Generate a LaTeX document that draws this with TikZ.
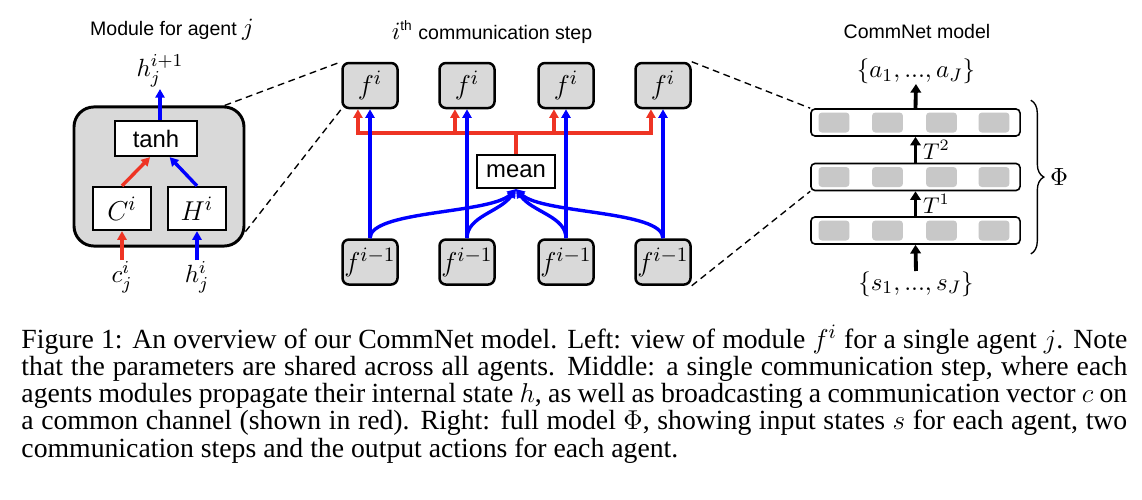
\documentclass[tikz,border=0pt]{standalone}
\usepackage{fontspec}
\setmainfont{Liberation Serif}
\newfontfamily\diagsans{Liberation Sans}
\usepackage{tikz}
\usetikzlibrary{arrows.meta,positioning,decorations.pathreplacing}

\definecolor{boxgray}{RGB}{217,217,217}
\definecolor{cellgray}{RGB}{200,200,200}
\definecolor{commred}{RGB}{238,52,36}
\definecolor{commblue}{RGB}{0,0,255}

\begin{document}
\begin{tikzpicture}[
    x=0.44pt, y=-0.44pt,
    % --- STYLES ---
    title/.style={font=\diagsans\fontsize{8.6}{10}\selectfont, inner sep=0pt},
    mathlabel/.style={font=\fontsize{11}{13}\selectfont, inner sep=0.5pt},
    outerbox/.style={
        rectangle, rounded corners=8.8pt,
        draw=black, fill=boxgray, line width=1.3pt,
        minimum width=74.8pt, minimum height=61.2pt
    },
    opbox/.style={
        rectangle, draw=black, fill=white,
        line width=1pt, inner sep=0pt,
        font=\diagsans\fontsize{10.5}{12}\selectfont
    },
    gatebox/.style={
        rectangle, draw=black, fill=white,
        line width=1pt, inner sep=0pt,
        minimum width=25.5pt, minimum height=18.9pt,
        font=\fontsize{12.5}{14}\selectfont
    },
    agentbox/.style={
        rectangle, rounded corners=2.8pt,
        draw=black, fill=boxgray, line width=1.1pt,
        minimum width=24.2pt, minimum height=19.8pt,
        inner sep=0pt, font=\fontsize{13}{15}\selectfont
    },
    layerbox/.style={
        rectangle, rounded corners=1.8pt,
        draw=black, fill=white, line width=0.7pt,
        minimum width=92pt, minimum height=11.9pt, inner sep=0pt
    },
    cellbox/.style={
        rectangle, rounded corners=1.5pt, fill=cellgray,
        minimum width=13.6pt, minimum height=8.8pt, inner sep=0pt
    },
    redwire/.style={draw=commred, line width=1.5pt},
    redarrow/.style={redwire, -{Triangle[length=3.8pt,width=4pt]}},
    bluearrow/.style={draw=commblue, line width=1.5pt, -{Triangle[length=3.8pt,width=4pt]}},
    netarrow/.style={draw=black, line width=1.7pt, -{Triangle[length=3.8pt,width=4.6pt]}},
    zoomline/.style={dashed, line width=0.6pt, dash pattern=on 3pt off 2pt},
    bracestyle/.style={line width=0.6pt, decorate, decoration={brace, amplitude=5.7pt}}
]
\useasboundingbox (0,0) rectangle (1142,500);

% ===== 1. MODULE FOR AGENT j =====
\node[title] (modtitle) at (172,30) {Module for agent {\fontsize{11}{13}\selectfont$j$}};

\node[outerbox] (mod) at (159,176.5) {};
\node[opbox, minimum width=36pt, minimum height=15.4pt] (tanh) at (156,138.5) {tanh};
\node[gatebox] (Ci) at (122,208.5) {$C^i$};
\node[gatebox] (Hi) at (197,208.5) {$H^i$};

\node[mathlabel, anchor=south] (hout) at (160,89) {$h_j^{i+1}$};
\node[mathlabel, anchor=north] (cin) at (122,260) {$c_j^i$};
\node[mathlabel, anchor=north] (hin) at (197,260) {$h_j^i$};

\draw[bluearrow] (tanh.north -| hout.south) -- (hout.south);
\draw[redarrow] (Ci.north) -- ([xshift=-2.6pt]tanh.south);
\draw[bluearrow] (Hi.north) -- ([xshift=6pt]tanh.south);
\draw[redarrow] (cin.north) -- (Ci.south);
\draw[bluearrow] (hin.north) -- (Hi.south);

% ===== 2. COMMUNICATION STEP =====
\def\xA{370}
\def\xB{467}
\def\xC{566}
\def\xD{663}

\node[title] (steptitle) at (492,32) {{\fontsize{11}{13}\selectfont$i$}\textsuperscript{th} communication step};

% top row f^i
\node[agentbox] (ft1) at (\xA,85.5) {$f^i$};
\node[agentbox] (ft2) at (\xB,85.5) {$f^i$};
\node[agentbox] (ft3) at (\xC,85.5) {$f^i$};
\node[agentbox] (ft4) at (\xD,85.5) {$f^i$};

% bottom row f^{i-1}
\node[agentbox] (fb1) at (\xA,262) {$f^{i-1}$};
\node[agentbox] (fb2) at (\xB,262) {$f^{i-1}$};
\node[agentbox] (fb3) at (\xC,262) {$f^{i-1}$};
\node[agentbox] (fb4) at (\xD,262) {$f^{i-1}$};

\node[opbox, minimum width=34.3pt, minimum height=14.5pt] (mean) at (516,171.5) {mean};

% red channel
\coordinate (bus) at (516,133);
\draw[redwire] (mean.north) -- (bus);
\draw[redarrow] (bus) -| ([xshift=-5.3pt]ft1.south);
\draw[redarrow] (bus) -| ([xshift=-5.3pt]ft2.south);
\draw[redarrow] (bus) -| ([xshift=-5.3pt]ft3.south);
\draw[redarrow] (bus) -| ([xshift=-5.3pt]ft4.south);

% blue state
\draw[bluearrow] (fb1.north) -- (ft1.south);
\draw[bluearrow] (fb2.north) -- (ft2.south);
\draw[bluearrow] (fb3.north) -- (ft3.south);
\draw[bluearrow] (fb4.north) -- (ft4.south);

\draw[bluearrow] (fb1.north) .. controls +(0,-28) and (490,214) .. (mean.south);
\draw[bluearrow] (fb2.north) .. controls +(0,-22) and (500,212) .. (mean.south);
\draw[bluearrow] (fb3.north) .. controls +(0,-22) and (532,212) .. (mean.south);
\draw[bluearrow] (fb4.north) .. controls +(0,-28) and (542,214) .. (mean.south);

% zoom lines
\draw[zoomline] ([xshift=-9.2pt]mod.north east) -- (ft1.north west);
\draw[zoomline] ([yshift=7pt]mod.south east) -- (ft1.south west);

% ===== 3. COMMNET MODEL =====
\node[title] (nettitle) at (917,32) {CommNet model};

\node[layerbox] (l3) at (915.5,122.5) {};
\node[cellbox] (c31) at (834,122.5) {};
\node[cellbox] (c32) at (887.5,122.5) {};
\node[cellbox] (c33) at (941.5,122.5) {};
\node[cellbox] (c34) at (994,122.5) {};

\node[layerbox] (l2) at (915.5,177) {};
\node[cellbox] (c21) at (834,177) {};
\node[cellbox] (c22) at (887.5,177) {};
\node[cellbox] (c23) at (941.5,177) {};
\node[cellbox] (c24) at (994,177) {};

\node[layerbox] (l1) at (915.5,230.5) {};
\node[cellbox] (c11) at (834,230.5) {};
\node[cellbox] (c12) at (887.5,230.5) {};
\node[cellbox] (c13) at (941.5,230.5) {};
\node[cellbox] (c14) at (994,230.5) {};

\node[mathlabel, anchor=south, inner sep=0pt, font=\fontsize{11}{12}\selectfont] (aout) at (916,84) {$\{a_1, ..., a_J\}$};
\node[mathlabel, anchor=north, inner sep=0pt, font=\fontsize{11}{12}\selectfont] (sin) at (916,271) {$\{s_1, ..., s_J\}$};

\draw[netarrow] (l3.north) -- (aout.south);
\draw[netarrow] (l2.north) -- node[mathlabel, right=2pt, font=\fontsize{10}{12}\selectfont] (t2) {$T^2$} (l3.south);
\draw[netarrow] (l1.north) -- node[mathlabel, right=2pt, font=\fontsize{10}{12}\selectfont] (t1) {$T^1$} (l2.south);
\draw[netarrow] (sin.north) -- (l1.south);

\draw[bracestyle] ([shift={(4.4pt,3.5pt)}]l3.north east) -- ([shift={(4.4pt,-4pt)}]l1.south east);
\node[mathlabel] (phi) at (1059,177) {$\Phi$};

\draw[zoomline] (ft4.north east) -- (l3.north west);
\draw[zoomline] (fb4.south east) -- (l2.south west);

% ===== 4. CAPTION =====
\node[anchor=base west, text width=486.6pt, align=justify, inner sep=0pt,
      font={\fontsize{12.2}{12}\selectfont\setlength{\lineskiplimit}{-6pt}}] (caption) at (21,348)
    {Figure 1: An overview of our CommNet model. Left: view of module $f^i$ for a single agent $j$. Note\linebreak
     that the parameters are shared across all agents. Middle: a single communication step, where each\linebreak
     agents modules propagate their internal state $h$, as well as broadcasting a communication vector $c$ on\linebreak
     a common channel (shown in red). Right: full model $\Phi$, showing input states $s$ for each agent, two\linebreak
     communication steps and the output actions for each agent.};

\end{tikzpicture}
\end{document}
